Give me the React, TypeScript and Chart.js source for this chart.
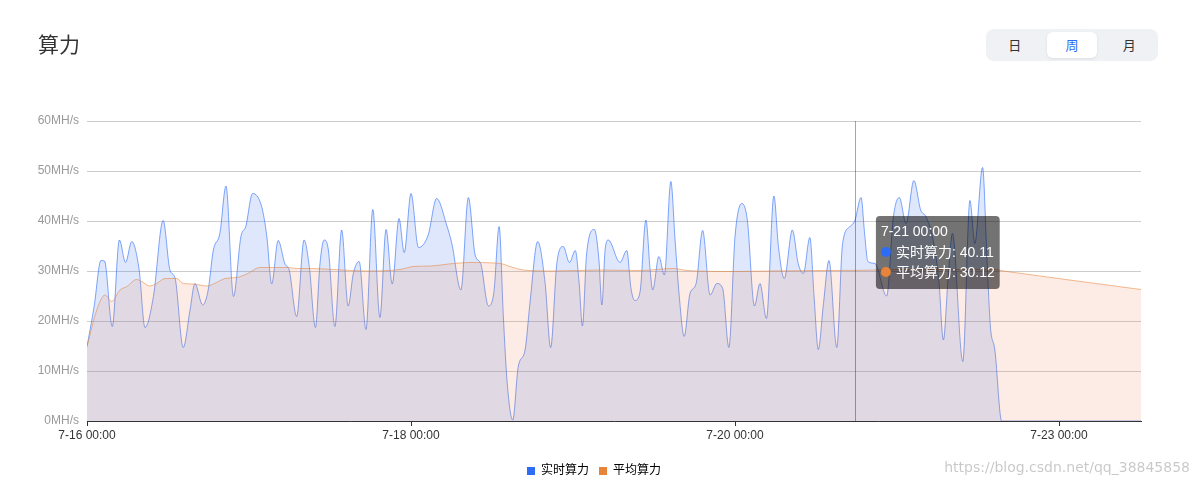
import React, { useEffect, useRef } from 'react';
import { Chart, registerables } from 'chart.js';

Chart.register(...registerables);

// ---- data ----
const realtimeX = [
  0, 2.2, 4.3, 5.4, 7.8, 10.0, 11.9, 13.8, 16.1, 17.9, 20.5, 23.5, 25.6, 27.2, 29.7, 31.8, 33.3, 35.7, 37.4, 39.0,
  41.0, 42.9, 45.2, 47.5, 49.0, 51.1, 53.9, 55.5, 57.0, 59.0, 61.1, 62.4, 64.7, 67.0, 68.6, 70.5, 71.9, 73.2, 74.5,
  76.5, 78.6, 80.6, 82.2, 84.0, 86.1, 88.2, 90.4, 92.3, 94.2, 96.3, 97.9, 100.0, 102.3, 105.3, 107.9, 111.0, 112.6,
  115.4, 117.7, 119.8, 121.5, 123.9, 125.6, 127.2, 128.5, 129.7, 131.4, 133.1, 135.2, 136.7, 139.1, 141.4, 143.1,
  145.0, 147.0, 148.9, 150.7, 151.9, 152.9, 154.2, 156.6, 158.0, 158.9, 159.9, 160.9, 164.5, 166.6, 167.9, 169.1,
  170.7, 172.5, 173.8, 174.6, 176.5, 178.2, 180.2, 181.5, 182.8, 184.3, 186.1, 188.0, 190.0, 192.3, 194.4, 196.2,
  198.1, 200.0, 202.1, 203.8, 206.0, 207.7, 209.7, 212.0, 213.4, 215.2, 217.7, 219.5, 221.1, 223.1, 224.4, 225.7,
  227.3, 229.0, 231.4, 233.2, 235.5, 237.0, 238.9, 240.0, 241.0, 243.2, 246.8, 248.9, 250.7, 252.8, 255.2, 257.3,
  258.9, 260.9, 262.9, 264.3, 265.8, 267.1, 270.3, 272.5, 274.0, 276.4, 277.8, 278.8, 280.2, 282.3, 325.3,
];
const realtimeY = [
  14.9, 22.9, 32.1, 32.0, 18.9, 36.2, 31.7, 35.9, 30.2, 18.7, 24.9, 40.1, 30.2, 28.5, 14.7, 22.2, 27.5, 23.2, 26.2, 34.2,
  37.5, 47.0, 24.9, 36.9, 38.9, 45.5, 42.9, 36.9, 27.4, 36.1, 31.4, 30.2, 20.9, 36.2, 30.9, 18.7, 31.5, 36.2, 34.2,
  18.9, 38.2, 23.0, 29.5, 31.9, 18.3, 42.3, 20.7, 38.3, 27.4, 40.5, 33.7, 45.5, 34.7, 37.2, 44.5, 39.2, 35.5,
  26.2, 44.7, 33.2, 31.5, 23.0, 25.9, 38.9, 20.9, 7.5, 0.2, 10.9, 14.2, 23.5, 35.9, 27.5, 14.7,
  31.5, 34.9, 31.7, 34.1, 27.5, 19.0, 33.5, 38.3, 32.2, 23.2, 34.2, 36.2, 31.7, 34.1, 26.5, 24.1,
  25.9, 40.2, 30.2, 26.2, 32.9, 29.2, 47.9, 36.2, 24.9, 16.9, 25.5, 27.5, 38.1, 25.2, 27.5, 26.5,
  14.7, 36.9, 43.5, 40.2, 23.0, 27.5, 20.5, 45.0, 34.9, 28.5, 38.2, 31.5, 29.5, 36.7, 24.9, 14.3,
  23.5, 32.1, 14.7, 35.5, 38.9, 40.11, 44.7, 37.5, 31.9, 31.5, 25.0, 40.9, 44.7, 39.5, 48.1, 42.2,
  40.9, 36.9, 28.2, 16.2, 28.9, 37.5, 11.9, 44.1, 35.5, 50.7, 32.0, 19.0, 14.2, 0, 0,
];
const averageX = [
  0, 3.0, 5.6, 7.6, 10.2, 12.3, 15.3, 16.9, 19.4, 21.5, 24.1, 27.7, 29.7, 32.8, 36.9, 40.0, 42.6, 46.2, 49.3, 53.4,
  57.5, 62.1, 64.7, 68.8, 76.0, 86.3, 96.6, 100.7, 105.9, 113.1, 118.2, 127.5, 130.6, 134.7, 143.9, 158.3, 170.7,
  181.0, 185.2, 199.5, 210.8, 226.2, 237.0, 250.9, 279.7, 283.9, 325.3,
];
const averageY = [
  14.9, 22.2, 25.2, 23.9, 26.2, 26.9, 28.3, 27.9, 27.0, 27.5, 28.5, 28.5, 27.5, 27.4, 27.0, 27.7, 28.5, 28.7, 29.4, 30.7,
  30.7, 30.7, 30.5, 30.5, 30.3, 30.0, 30.3, 30.9, 31.0, 31.5, 31.7, 31.5, 30.9, 30.2, 30.0, 30.2, 30.1,
  30.5, 30.1, 29.9, 30.0, 30.1, 30.12, 30.3, 30.3, 29.9, 26.3,
];
const xTickValues = [0, 100, 200, 300];
const xTickLabels = ['7-16 00:00', '7-18 00:00', '7-20 00:00', '7-23 00:00'];
const seriesNames = ['实时算力', '平均算力'];
const tooltipX = 237;
const tooltipTitle = '7-21 00:00';
const periodOptions = ['日', '周', '月'];
const selectedPeriod = '周';
const chartTitle = '算力';
const watermark = 'https://blog.csdn.net/qq_38845858';

// ---- styles ----
const FONT = "'Liberation Sans', 'Noto Sans CJK SC', sans-serif";
const BLUE = '#2d6cf6';
const ORANGE = '#e8833a';
const BLUE_LINE = 'rgba(45,108,246,0.6)';
const BLUE_FILL = 'rgba(60,110,240,0.17)';
const ORANGE_LINE = 'rgba(232,131,58,0.55)';
const ORANGE_FILL = 'rgba(235,130,80,0.15)';
const seriesColors = [BLUE, ORANGE];

const legendShift = {
  id: 'legendShift',
  afterLayout(chart: any) {
    if (chart.legend) {
      chart.legend.left = 47;
      chart.legend.top += 2;
      chart.legend.bottom += 2;
    }
  },
};

const staticTooltip = {
  id: 'staticTooltip',
  afterDraw(chart: any) {
    const { ctx, chartArea, scales } = chart;
    const px = scales.x.getPixelForValue(tooltipX);
    ctx.save();
    ctx.strokeStyle = 'rgba(0,0,0,0.35)';
    ctx.lineWidth = 1;
    ctx.beginPath();
    const lx = Math.round(px) + 0.5;
    ctx.moveTo(lx, chartArea.top);
    ctx.lineTo(lx, chartArea.bottom);
    ctx.stroke();

    const values = [
      realtimeY[realtimeX.indexOf(tooltipX)],
      averageY[averageX.indexOf(tooltipX)],
    ];
    ctx.font = `14px ${FONT}`;
    const lines = seriesNames.map((n, i) => `${n}: ${values[i].toFixed(2)}`);
    const textW = Math.max(
      ctx.measureText(tooltipTitle).width,
      ...lines.map((l: string) => ctx.measureText(l).width + 15)
    );
    const bx = px + 21;
    const by = chartArea.top + 95;
    const bw = textW + 10;
    const bh = 73;
    ctx.fillStyle = 'rgba(0,0,0,0.55)';
    ctx.beginPath();
    ctx.roundRect(bx, by, bw, bh, 4);
    ctx.fill();
    ctx.fillStyle = '#fff';
    ctx.textBaseline = 'middle';
    ctx.textAlign = 'left';
    ctx.fillText(tooltipTitle, bx + 5, by + 16);
    lines.forEach((l: string, i: number) => {
      const cy = by + 36 + i * 20;
      ctx.fillStyle = seriesColors[i];
      ctx.beginPath();
      ctx.arc(bx + 10, cy, 5, 0, Math.PI * 2);
      ctx.fill();
      ctx.fillStyle = '#fff';
      ctx.fillText(l, bx + 20, cy + 1);
    });
    ctx.restore();
  },
};

export default function App() {
  const canvasRef = useRef<HTMLCanvasElement | null>(null);

  useEffect(() => {
    const canvas = canvasRef.current;
    if (!canvas) return;
    const chart = new Chart(canvas, {
      type: 'line',
      data: {
        datasets: [
          {
            label: seriesNames[0],
            data: realtimeX.map((x, i) => ({ x, y: realtimeY[i] })),
            borderColor: BLUE_LINE,
            backgroundColor: BLUE_FILL,
            borderWidth: 1,
            fill: 'origin',
            pointRadius: 0,
            cubicInterpolationMode: 'monotone',
            order: 1,
          },
          {
            label: seriesNames[1],
            data: averageX.map((x, i) => ({ x, y: averageY[i] })),
            borderColor: ORANGE_LINE,
            backgroundColor: ORANGE_FILL,
            borderWidth: 1,
            fill: 'origin',
            pointRadius: 0,
            cubicInterpolationMode: 'monotone',
            order: 0,
          },
        ],
      },
      options: {
        responsive: false,
        animation: false,
        devicePixelRatio: 1,
        layout: { padding: { left: 0, right: 58, top: 121, bottom: 0 } },
        font: { family: FONT },
        scales: {
          x: {
            type: 'linear',
            min: 0,
            max: realtimeX[realtimeX.length - 1],
            afterBuildTicks: (axis: any) => {
              axis.ticks = xTickValues.map((v) => ({ value: v }));
            },
            afterFit: (axis: any) => {
              axis.height = 32;
            },
            ticks: {
              autoSkip: false,
              maxRotation: 0,
              padding: 2,
              color: '#333',
              font: { size: 12, family: FONT },
              callback: (v: any) => xTickLabels[xTickValues.indexOf(Number(v))] ?? '',
            },
            grid: {
              drawOnChartArea: false,
              drawTicks: true,
              tickLength: 5,
              color: '#333',
            },
            border: { color: '#333', width: 1 },
          },
          y: {
            min: 0,
            max: 60,
            afterFit: (axis: any) => {
              axis.width = 87;
            },
            ticks: {
              stepSize: 10,
              padding: 8,
              color: '#999',
              font: { size: 12, family: FONT },
              callback: (v: any) => `${v}MH/s`,
            },
            grid: { color: 'rgba(0,0,0,0.2)', drawTicks: false },
            border: { display: false },
          },
        },
        plugins: {
          legend: {
            position: 'bottom',
            labels: {
              boxWidth: 8,
              boxHeight: 8,
              padding: 10,
              color: '#333',
              font: { size: 12, family: FONT },
              generateLabels: () =>
                seriesNames.map((n, i) => ({
                  text: n,
                  fillStyle: seriesColors[i],
                  strokeStyle: seriesColors[i],
                  lineWidth: 0,
                  datasetIndex: i,
                  hidden: false,
                })),
            },
          },
          tooltip: { enabled: false },
        },
      } as any,
      plugins: [legendShift, staticTooltip],
    });
    return () => chart.destroy();
  }, []);

  return (
    <div style={{ position: 'absolute', left: 0, top: 0, width: 1199, height: 485, background: '#fff', overflow: 'hidden' }}>
      <canvas ref={canvasRef} width={1199} height={485} style={{ position: 'absolute', left: 0, top: 0, display: 'block' }} />
      <div
        style={{
          position: 'absolute',
          left: 38,
          top: 33,
          fontSize: 21,
          lineHeight: '21px',
          color: '#333',
          fontFamily: "'Noto Sans CJK SC', sans-serif",
        }}
      >
        {chartTitle}
      </div>
      <div
        style={{
          position: 'absolute',
          left: 986,
          top: 29,
          width: 172,
          height: 32,
          background: '#f0f1f4',
          borderRadius: 8,
          display: 'flex',
          fontFamily: "'Noto Sans CJK SC', sans-serif",
        }}
      >
        {periodOptions.map((p) => (
          <div key={p} style={{ width: 172 / 3, padding: '3px 3.5px', boxSizing: 'border-box' }}>
            <div
              style={{
                height: 26,
                lineHeight: '26px',
                textAlign: 'center',
                fontSize: 13,
                borderRadius: 6,
                color: p === selectedPeriod ? BLUE : '#333',
                background: p === selectedPeriod ? '#fff' : 'transparent',
                boxShadow: p === selectedPeriod ? '0 1px 3px rgba(0,0,0,0.08)' : 'none',
              }}
            >
              {p}
            </div>
          </div>
        ))}
      </div>
      <div
        style={{
          position: 'absolute',
          right: 9,
          top: 458,
          fontSize: 14,
          lineHeight: '18px',
          color: 'rgba(0,0,0,0.22)',
          fontFamily: "'DejaVu Sans', sans-serif",
        }}
      >
        {watermark}
      </div>
    </div>
  );
}
